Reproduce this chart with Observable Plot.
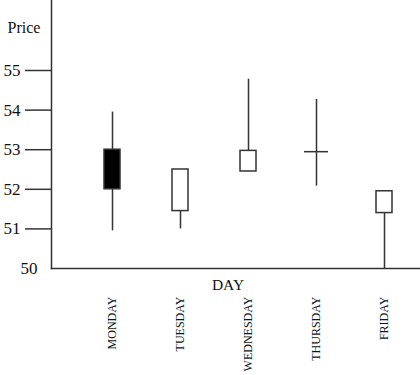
<!DOCTYPE html>
<html>
<head>
<meta charset="utf-8">
<script src="https://cdn.jsdelivr.net/npm/d3@7"></script>
<script src="https://cdn.jsdelivr.net/npm/@observablehq/plot@0.6"></script>
<style>
  html, body { margin: 0; padding: 0; background: #fff; }
</style>
</head>
<body>
<div id="chart"></div>
<script>
const days = ["MONDAY", "TUESDAY", "WEDNESDAY", "THURSDAY", "FRIDAY"];
const open = [53.0, 51.45, 52.45, 52.95, 51.4];
const close = [52.0, 52.5, 52.97, 52.95, 51.95];
const high = [53.95, 52.5, 54.78, 54.27, 51.95];
const low = [50.95, 51.0, 52.45, 52.08, 50.0];
const yTicks = [51, 52, 53, 54, 55];

const rows = days.map((day, i) => ({
  day, open: open[i], close: close[i], high: high[i], low: low[i]
}));
const bodies = rows.filter(d => d.open !== d.close);
const dojis = rows.filter(d => d.open === d.close);

const font = "'Liberation Serif', 'Times New Roman', serif";
const ink = "#333";

const chart = Plot.plot({
  width: 420,
  height: 375,
  marginLeft: 51,
  marginRight: 0,
  marginTop: 0,
  marginBottom: 107,
  style: { fontFamily: font, background: "#fff", color: "#111" },
  x: { type: "band", domain: days, range: [102, 394], paddingInner: 0.768, paddingOuter: 0, align: 0.5 },
  y: { domain: [50, 55], range: [268, 70] },
  marks: [
    Plot.frame({ anchor: "left", stroke: ink, strokeWidth: 1.5 }),
    Plot.frame({ anchor: "bottom", stroke: ink, strokeWidth: 1.5 }),
    Plot.ruleX(rows, { x: "day", y1: "low", y2: "high", stroke: ink, strokeWidth: 1.5 }),
    Plot.barY(bodies, {
      x: "day",
      y1: d => Math.min(d.open, d.close),
      y2: d => Math.max(d.open, d.close),
      fill: d => d.close < d.open ? "#000" : "#fff",
      stroke: ink,
      strokeWidth: 1.5
    }),
    Plot.tickY(dojis, { x: "day", y: "open", stroke: ink, strokeWidth: 1.5, insetLeft: -4, insetRight: -4 }),
    Plot.axisY({
      ticks: yTicks, tickSize: 26, tickPadding: 5, tickFormat: d => String(d),
      fontSize: 17, stroke: ink, strokeWidth: 1.5, strokeOpacity: 1, label: null
    }),
    Plot.text([50], { y: d => d, frameAnchor: "left", textAnchor: "end", dx: -14, fontSize: 17, fill: "#111" }),
    Plot.text(["Price"], { frameAnchor: "top-left", textAnchor: "start", lineAnchor: "middle", dx: -44, dy: 27, fontSize: 16, fill: "#111" }),
    Plot.axisX({ tickSize: 0, tickPadding: 28, tickRotate: -90, fontSize: 12, label: null }),
    Plot.text(["DAY"], { frameAnchor: "bottom", lineAnchor: "bottom", dx: -8, dy: 21, fontSize: 15.5, fill: "#111" })
  ]
});
document.getElementById("chart").appendChild(chart);
</script>
</body>
</html>
